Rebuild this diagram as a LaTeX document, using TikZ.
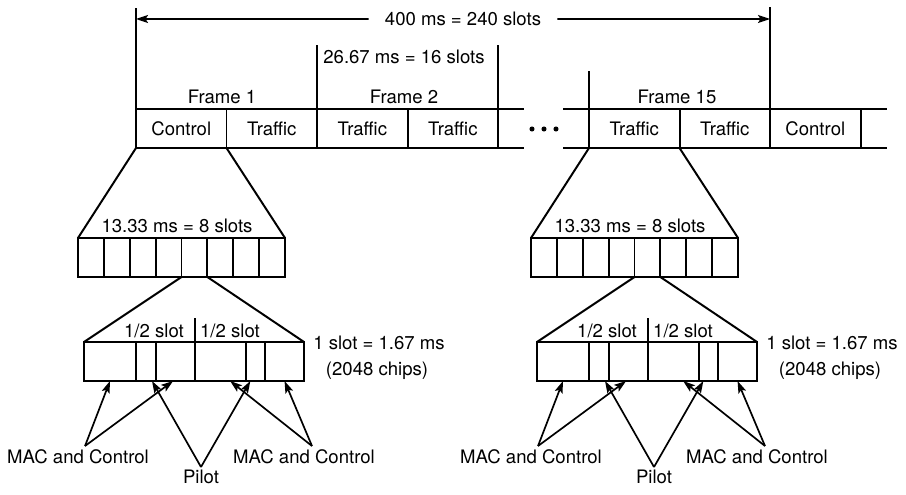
\documentclass[tikz,border=0pt]{standalone}
\usepackage{fontspec}
\setmainfont{TeX Gyre Heros}
\usetikzlibrary{arrows.meta,positioning,calc}
\tikzset{
  ln/.style={line width=1.4pt},
  ar/.style={-{Stealth[length=3mm,width=2mm,inset=0.6mm]},line width=1.2pt},
  cell/.style={draw,line width=1.4pt,minimum width=2.2625cm,minimum height=0.975cm,inner sep=0pt,outer sep=0pt},
  slotbox/.style={draw,line width=1.4pt,minimum width=0.6469cm,minimum height=0.975cm,inner sep=0pt,outer sep=0pt},
  part/.style={draw,line width=1.4pt,minimum height=0.975cm,inner sep=0pt,outer sep=0pt},
  lbl/.style={inner sep=1pt}
}

\begin{document}
\begin{tikzpicture}[x=0.025cm,y=-0.025cm,font=\fontsize{13.2}{15}\selectfont]
\useasboundingbox (0,0) rectangle (906,494);
% frame row
\node[cell] (ctlA) at (181.25,128.5) {Control};
\node[cell,right=0pt of ctlA] (trfA) {Traffic};
\node[cell,right=0pt of trfA] (trfB) {Traffic};
\node[cell,right=0pt of trfB] (trfC) {Traffic};
\node[cell] (trfD) at (634.25,128.5) {Traffic};
\node[cell,right=0pt of trfD] (trfE) {Traffic};
\node[cell,right=0pt of trfE] (ctlB) {Control};
\draw[ln] (trfC.north east) -- ++(26,0) (trfC.south east) -- ++(26,0);
\draw[ln] (trfD.north west) -- ++(-26,0) (trfD.south west) -- ++(-26,0);
\draw[ln] (ctlB.north east) -- ++(26,0) (ctlB.south east) -- ++(26,0);
\foreach \d in {532,544,556} \fill (\d,129) circle (1.8pt);
% ticks above
\draw[ln] (ctlA.north west) -- ++(0,-101);
\draw[ln] (trfB.north west) -- ++(0,-64);
\draw[ln] (trfC.north east) -- ++(0,-64);
\draw[ln] (trfD.north west) -- ++(0,-38);
\draw[ln] (trfE.north east) -- ++(0,-102);
% labels
\node[lbl,inner xsep=0.4cm] (total) at (463,19) {400 ms = 240 slots};
\coordinate (tL) at ($(ctlA.north west)+(0,-90)$);
\coordinate (tR) at ($(trfE.north east)+(0,-90)$);
\draw[ar] (total.west) -- (tL);
\draw[ar] (total.east) -- (tR);
\node[lbl] (per) at (404,57) {26.67 ms = 16 slots};
\node[lbl] (f1) at (222,97) {Frame 1};
\node[lbl] (f2) at (404,97) {Frame 2};
\node[lbl] (f15) at (677,97) {Frame 15};
% zoomed parts
\foreach \s/\dx/\top in {L/0/ctlA,R/453/trfD}{
\begin{scope}[shift={(\dx,0)}]
  \foreach \i in {1,...,8}
    \node[slotbox] (\s-s\i) at ({78+25.875*(\i-0.5)},257.5) {};
  \node[lbl] (\s-half) at (177,226) {13.33 ms = 8 slots};
  \draw[ln] (\top.south west) -- (\s-s1.north west);
  \draw[ln] (\top.south east) -- (\s-s8.north east);
  \node[part,minimum width=1.3cm] (\s-p1) at (110,361.5) {};
  \foreach \i/\j/\w in {2/1/0.5,3/2/0.975,4/3/1.275,5/4/0.475,6/5/0.975}
    \node[part,minimum width=\w cm,right=0pt of \s-p\j] (\s-p\i) {};
  \draw[ln] (\s-s5.south west) -- (\s-p1.north west);
  \draw[ln] (\s-s5.south east) -- (\s-p6.north east);
  \draw[ln] (\s-p4.north west) -- ++(0,-24);
  \node[lbl] (\s-h1) at (154,331) {1/2 slot};
  \node[lbl] (\s-h2) at (230,331) {1/2 slot};
  \node[lbl] (\s-dur) at (379,343) {1 slot = 1.67 ms};
  \node[lbl] (\s-chip) at (377,371) {(2048 chips)};
  \node[lbl] (\s-maca) at (78,457) {MAC and Control};
  \node[lbl] (\s-pil) at (201,477) {Pilot};
  \node[lbl] (\s-macb) at (304,457) {MAC and Control};
  \coordinate (\s-ma) at (85,446);
  \coordinate (\s-pa) at (201,467);
  \coordinate (\s-mb) at (312,446);
  \draw[ar] (\s-ma) -- (\s-p1.south);
  \draw[ar] (\s-ma) -- ([xshift=-0.06cm]\s-p3.south);
  \draw[ar] (\s-pa) -- ([xshift=0.15cm]\s-p2.south);
  \draw[ar] (\s-pa) -- ([xshift=-0.13cm]\s-p5.south);
  \draw[ar] (\s-mb) -- ([xshift=0.24cm]\s-p4.south);
  \draw[ar] (\s-mb) -- (\s-p6.south);
\end{scope}}
\end{tikzpicture}
\end{document}
